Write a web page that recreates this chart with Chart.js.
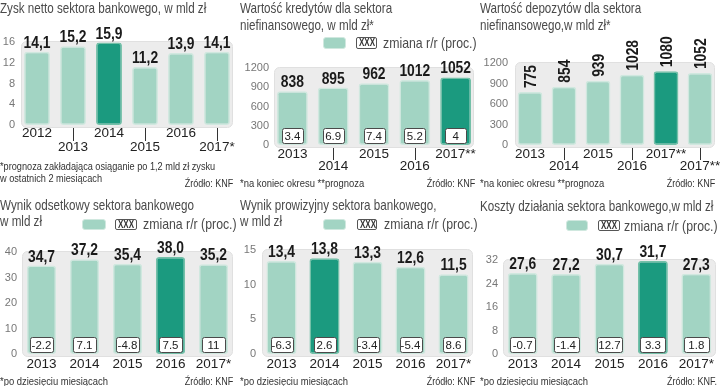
<!DOCTYPE html>
<html><head><meta charset="utf-8">
<script src="https://cdn.jsdelivr.net/npm/chart.js@4.4.1/dist/chart.umd.min.js"></script>
<style>
html,body{margin:0;padding:0;background:#fff;}
#wrap{position:relative;width:720px;height:386px;overflow:hidden;font-family:"Liberation Sans",Arial,sans-serif;color:#3a3a3a;}
.panel{position:absolute;width:240px;height:193px;}
.panel canvas{position:absolute;left:0;top:0;}
.sx{display:inline-block;transform:scaleX(0.82);transform-origin:0 0;white-space:nowrap;}
.sxr{display:inline-block;transform:scaleX(0.82);transform-origin:100% 0;white-space:nowrap;}
.sxc{display:inline-block;transform:scaleX(0.8);transform-origin:50% 0;white-space:nowrap;}
.title{position:absolute;left:0;font-size:14.2px;white-space:nowrap;color:#4a4a4a;}
.sw{position:absolute;background:#a2d4c3;border:1.5px solid #d0e8df;border-radius:3px;box-sizing:border-box;}
.xb{position:absolute;background:#fff;border:1px solid #555;border-radius:2px;box-sizing:border-box;font-size:10px;font-weight:bold;text-align:center;color:#333;}
.lt{position:absolute;font-size:15px;line-height:16px;white-space:nowrap;color:#4a4a4a;}
.fn{position:absolute;left:0;font-size:11.5px;line-height:11.5px;white-space:nowrap;color:#333;}
.src{position:absolute;font-size:11px;line-height:12px;white-space:nowrap;color:#333;}
</style>
</head>
<body>
<div id="wrap">
  <div class="panel" style="left:0;top:0;">
    <canvas id="c1" width="240" height="193"></canvas>
    <div class="title" style="top:0;line-height:16px;"><span class="sx">Zysk netto sektora bankowego, w mld zł</span></div>
    <div class="fn" style="top:161px;font-size:11.2px;"><span class="sx">*prognoza zakładająca osiąganie po 1,2 mld zł zysku<br>w ostatnich 2 miesiącach</span></div>
    <div class="src" style="right:7px;top:177px;"><span class="sxr">Źródło: KNF</span></div>
  </div>
  <div class="panel" style="left:240px;top:0;">
    <canvas id="c2" width="240" height="193"></canvas>
    <div class="title" style="top:0;line-height:17px;"><span class="sx">Wartość kredytów dla sektora<br>niefinansowego, w mld zł*</span></div>
    <div class="sw" style="left:83px;top:37px;width:23px;height:12px;"></div>
    <div class="xb" style="left:116px;top:37px;width:21px;height:12px;line-height:10px;"><span class="sxc">XXX</span></div>
    <div class="lt" style="left:143px;top:35px;"><span class="sx">zmiana r/r (proc.)</span></div>
    <div class="fn" style="top:177px;line-height:12px;"><span class="sx">*na koniec okresu **prognoza</span></div>
    <div class="src" style="right:5px;top:177px;"><span class="sxr">Źródło: KNF</span></div>
  </div>
  <div class="panel" style="left:480px;top:0;">
    <canvas id="c3" width="240" height="193"></canvas>
    <div class="title" style="top:0;line-height:17px;"><span class="sx">Wartość depozytów dla sektora<br>niefinansowego,w mld zł*</span></div>
    <div class="fn" style="top:177px;line-height:12px;"><span class="sx">*na koniec okresu **prognoza</span></div>
    <div class="src" style="right:5px;top:177px;"><span class="sxr">Źródło: KNF</span></div>
  </div>
  <div class="panel" style="left:0;top:193px;">
    <canvas id="c4" width="240" height="193"></canvas>
    <div class="title" style="top:3.5px;line-height:16.5px;"><span class="sx">Wynik odsetkowy sektora bankowego<br>w mld zł</span></div>
    <div class="sw" style="left:82px;top:26px;width:24px;height:11px;"></div>
    <div class="xb" style="left:115px;top:26px;width:22px;height:11px;line-height:9px;"><span class="sxc">XXX</span></div>
    <div class="lt" style="left:143px;top:23px;"><span class="sx">zmiana r/r (proc.)</span></div>
    <div class="fn" style="top:182px;line-height:12px;"><span class="sx">*po dziesięciu miesiącach</span></div>
    <div class="src" style="right:7px;top:182px;"><span class="sxr">Źródło: KNF</span></div>
  </div>
  <div class="panel" style="left:240px;top:193px;">
    <canvas id="c5" width="240" height="193"></canvas>
    <div class="title" style="top:3.5px;line-height:16.5px;"><span class="sx">Wynik prowizyjny sektora bankowego,<br>w mld zł</span></div>
    <div class="sw" style="left:83px;top:26px;width:23px;height:11px;"></div>
    <div class="xb" style="left:117px;top:26px;width:20px;height:11px;line-height:9px;"><span class="sxc">XXX</span></div>
    <div class="lt" style="left:144px;top:23px;"><span class="sx">zmiana r/r (proc.)</span></div>
    <div class="fn" style="top:182px;line-height:12px;"><span class="sx">*po dziesięciu miesiącach</span></div>
    <div class="src" style="right:5px;top:182px;"><span class="sxr">Źródło: KNF</span></div>
  </div>
  <div class="panel" style="left:480px;top:193px;">
    <canvas id="c6" width="240" height="193"></canvas>
    <div class="title" style="top:5px;line-height:16.5px;"><span class="sx">Koszty działania sektora bankowego,w mld zł</span></div>
    <div class="sw" style="left:86px;top:27px;width:22px;height:11px;"></div>
    <div class="xb" style="left:118px;top:27px;width:22px;height:11px;line-height:9px;"><span class="sxc">XXX</span></div>
    <div class="lt" style="left:144px;top:25px;"><span class="sx">zmiana r/r (proc.)</span></div>
    <div class="fn" style="top:182px;line-height:12px;"><span class="sx">*po dziesięciu miesiącach</span></div>
    <div class="src" style="right:3px;top:182px;"><span class="sxr">Źródło: KNF.</span></div>
  </div>
</div>
<script>
// ---- data ----
const p1Categories = ['2012','2013','2014','2015','2016','2017*'];
const p1Values = [14.1, 15.2, 15.9, 11.2, 13.9, 14.1];
const p1Highlight = 2;
const p1Staggered = [1, 3, 5];
const p1YTicks = [0, 4, 8, 12, 16];

const p2Categories = ['2013','2014','2015','2016','2017**'];
const p2Values = [838, 895, 962, 1012, 1052];
const p2Changes = [3.4, 6.9, 7.4, 5.2, 4];
const p2Highlight = 4;
const p2Staggered = [1, 3];
const p2YTicks = [0, 300, 600, 900, 1200];

const p3Categories = ['2013','2014','2015','2016','2017**','2017**'];
const p3Values = [775, 854, 939, 1028, 1080, 1052];
const p3Highlight = 4;
const p3Staggered = [1, 3, 5];
const p3YTicks = [0, 300, 600, 900, 1200];

const p4Categories = ['2013','2014','2015','2016','2017*'];
const p4Values = [34.7, 37.2, 35.4, 38.0, 35.2];
const p4Changes = [-2.2, 7.1, -4.8, 7.5, 11];
const p4Highlight = 3;
const p4YTicks = [0, 10, 20, 30, 40];

const p5Categories = ['2013','2014','2015','2016','2017*'];
const p5Values = [13.4, 13.8, 13.3, 12.6, 11.5];
const p5Changes = [-6.3, 2.6, -3.4, -5.4, 8.6];
const p5Highlight = 1;
const p5YTicks = [0, 5, 10, 15];

const p6Categories = ['2013','2014','2015','2016','2017*'];
const p6Values = [27.6, 27.2, 30.7, 31.7, 27.3];
const p6Changes = [-0.7, -1.4, 12.7, 3.3, 1.8];
const p6Highlight = 3;
const p6YTicks = [0, 8, 16, 24, 32];

// ---- styling ----
const LIGHT = '#a2d4c3', DARK = '#1b9a7f';
const LIGHT_B = '#d0e8df', DARK_B = '#74c0a8';
const SANS = '"Liberation Sans",Arial,sans-serif';
const H = 193;

function rr(ctx, x, y, w, h, r) {
  ctx.beginPath();
  ctx.moveTo(x + r, y);
  ctx.arcTo(x + w, y, x + w, y + h, r);
  ctx.arcTo(x + w, y + h, x, y + h, r);
  ctx.arcTo(x, y + h, x, y, r);
  ctx.arcTo(x, y, x + w, y, r);
  ctx.closePath();
}

function makeChart(id, cfg) {
  const g = cfg.geom;
  const n = cfg.values.length;
  const bg = [], bc = [];
  for (let i = 0; i < n; i++) {
    bg.push(i === cfg.highlight ? DARK : LIGHT);
    bc.push(i === cfg.highlight ? DARK_B : LIGHT_B);
  }
  const deco = {
    id: 'deco' + id,
    beforeDatasetsDraw(chart) {
      const a = chart.chartArea, ctx = chart.ctx;
      ctx.save();
      rr(ctx, a.left + 2.5, a.top - 0.5, a.right - a.left - 5, a.bottom - a.top + 3, 5);
      ctx.fillStyle = '#ececec';
      ctx.fill();
      ctx.strokeStyle = '#e0e0e0';
      ctx.lineWidth = 1;
      ctx.stroke();
      ctx.restore();
    },
    afterDatasetsDraw(chart) {
      const a = chart.chartArea, ctx = chart.ctx;
      const meta = chart.getDatasetMeta(0);
      const base = chart.scales.y.getPixelForValue(0);
      ctx.save();
      meta.data.forEach((el, i) => {
        const v = cfg.values[i];
        const txt = cfg.decimals ? v.toFixed(1).replace('.', ',') : String(v);
        ctx.font = 'bold 16.5px ' + SANS;
        ctx.fillStyle = '#1a1a1a';
        ctx.save();
        if (cfg.rotate) {
          ctx.translate(el.x + 0.5, el.y - 4);
          ctx.rotate(-Math.PI / 2);
          ctx.scale(0.84, 1);
          ctx.textAlign = 'left';
          ctx.textBaseline = 'middle';
          ctx.fillText(txt, 0, 1);
        } else {
          ctx.translate(el.x, el.y - 4);
          ctx.scale(0.84, 1);
          ctx.textAlign = 'center';
          ctx.textBaseline = 'alphabetic';
          ctx.fillText(txt, 0, 0);
        }
        ctx.restore();
        if (cfg.changes) {
          const bw = g.boxW, bh = 15;
          const bx = Math.round(el.x - bw / 2) + 0.5, by = Math.round(base - 2 - bh) + 0.5;
          rr(ctx, bx, by, bw, bh, 2);
          ctx.fillStyle = '#ffffff';
          ctx.fill();
          ctx.strokeStyle = '#4a4a4a';
          ctx.lineWidth = 1;
          ctx.stroke();
          ctx.fillStyle = '#222';
          ctx.font = '11.5px ' + SANS;
          ctx.textAlign = 'center';
          ctx.textBaseline = 'middle';
          ctx.fillText(String(cfg.changes[i]), el.x, by + bh / 2 + 0.5);
        }
      });
      const xs = chart.scales.x;
      ctx.strokeStyle = '#333';
      ctx.lineWidth = 1;
      (cfg.staggered || []).forEach(i => {
        const x = Math.round(xs.getPixelForTick(i)) + 0.5;
        ctx.beginPath();
        ctx.moveTo(x, a.bottom + 3);
        ctx.lineTo(x, a.bottom + g.pad + g.lh * 1.5 - 6);
        ctx.stroke();
      });
      ctx.restore();
    }
  };
  const yt = cfg.yTicks;
  return new Chart(document.getElementById(id), {
    type: 'bar',
    data: {
      labels: cfg.categories,
      datasets: [{
        data: cfg.values,
        backgroundColor: bg,
        borderColor: bc,
        borderWidth: 1.5,
        borderRadius: 3,
        borderSkipped: false,
        categoryPercentage: 1,
        barPercentage: g.bar
      }]
    },
    options: {
      responsive: false,
      animation: false,
      devicePixelRatio: 1,
      layout: { padding: { left: 0, top: g.T, right: 240 - g.R, bottom: 0 } },
      plugins: { legend: { display: false }, tooltip: { enabled: false }, title: { display: false } },
      scales: {
        x: {
          type: 'category',
          offset: true,
          grid: { display: false, drawTicks: false },
          border: { display: false },
          ticks: {
            autoSkip: false, maxRotation: 0, minRotation: 0,
            padding: g.pad, color: '#222',
            font: { family: SANS, size: 13.5, lineHeight: g.lh + 'px' },
            callback(v, i) {
              const c = cfg.categories[i];
              return (cfg.staggered || []).includes(i) ? ['', c] : c;
            }
          },
          afterFit(s) { s.height = H - g.B; s.paddingLeft = 0; s.paddingRight = 0; }
        },
        y: {
          min: 0,
          max: yt[yt.length - 1],
          afterBuildTicks(s) { s.ticks = yt.map(v => ({ value: v })); },
          grid: { display: false, drawTicks: false },
          border: { display: false },
          ticks: { padding: g.yp, color: '#777', font: { family: SANS, size: 11 }, callback: v => String(v) },
          afterFit(s) { s.width = g.L; s.paddingTop = 0; s.paddingBottom = 0; }
        }
      }
    },
    plugins: [deco]
  });
}

makeChart('c1', { categories: p1Categories, values: p1Values, highlight: p1Highlight, staggered: p1Staggered, yTicks: p1YTicks, decimals: true,
  geom: { L: 19, R: 235, T: 42, B: 125, lh: 14, pad: 1, bar: 0.72, yp: 4 } });
makeChart('c2', { categories: p2Categories, values: p2Values, changes: p2Changes, highlight: p2Highlight, staggered: p2Staggered, yTicks: p2YTicks, decimals: false,
  geom: { L: 32, R: 236, T: 68, B: 145, lh: 12, pad: 3, bar: 0.755, yp: 3, boxW: 21 } });
makeChart('c3', { categories: p3Categories, values: p3Values, highlight: p3Highlight, staggered: p3Staggered, yTicks: p3YTicks, decimals: false, rotate: true,
  geom: { L: 33, R: 237, T: 63, B: 145, lh: 12, pad: 3, bar: 0.73, yp: 5 } });
makeChart('c4', { categories: p4Categories, values: p4Values, changes: p4Changes, highlight: p4Highlight, yTicks: p4YTicks, decimals: true,
  geom: { L: 20, R: 235, T: 59, B: 161, lh: 16, pad: 2, bar: 0.68, yp: 3, boxW: 23 } });
makeChart('c5', { categories: p5Categories, values: p5Values, changes: p5Changes, highlight: p5Highlight, yTicks: p5YTicks, decimals: true,
  geom: { L: 20, R: 235, T: 57, B: 161, lh: 16, pad: 2, bar: 0.70, yp: 4, boxW: 22 } });
makeChart('c6', { categories: p6Categories, values: p6Values, changes: p6Changes, highlight: p6Highlight, yTicks: p6YTicks, decimals: true,
  geom: { L: 21, R: 238, T: 67, B: 161, lh: 16, pad: 2, bar: 0.69, yp: 3, boxW: 25 } });
</script>
</body></html>
